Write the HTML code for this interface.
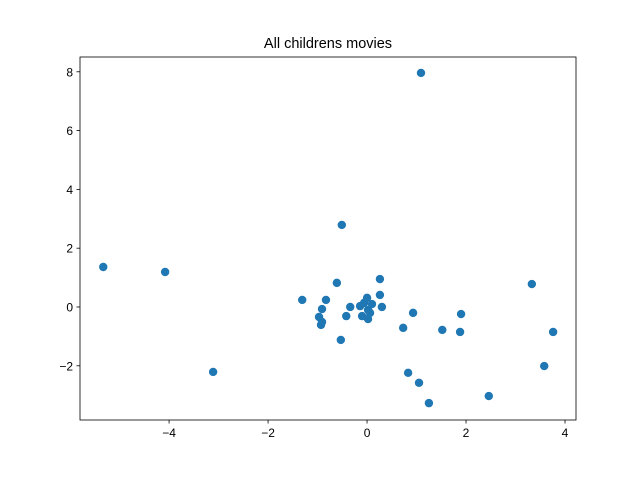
<!DOCTYPE html>
<html><head><meta charset="utf-8"><style>
body{margin:0;background:#fff}
svg text{font-family:"Liberation Sans","DejaVu Sans",sans-serif;fill:#000}
</style></head><body>
<svg id="chart" width="640" height="472" xmlns="http://www.w3.org/2000/svg">
<rect width="640" height="472" fill="#fff"/>
<text x="328" y="48" font-size="14.5" text-anchor="middle">All childrens movies</text>
<g id="marks"></g>
<g id="axes"></g>
</svg>
<script>
const xValues=[-5.33,-4.08,-3.11,-1.31,-0.97,-0.93,-0.91,-0.91,-0.83,-0.61,-0.53,-0.51,-0.42,-0.34,-0.14,-0.10,-0.06,0,0.02,0.02,0.06,0.10,0.26,0.26,0.30,0.73,0.83,0.93,1.05,1.09,1.25,1.52,1.88,1.90,2.46,3.33,3.58,3.76];
const yValues=[1.36,1.19,-2.21,0.24,-0.34,-0.61,-0.07,-0.51,0.24,0.82,-1.12,2.79,-0.31,0,0.03,-0.31,0.14,0.31,-0.1,-0.41,-0.2,0.10,0.95,0.41,0,-0.71,-2.24,-0.2,-2.58,7.96,-3.27,-0.78,-0.85,-0.24,-3.03,0.78,-2.01,-0.85];
const xTicks=[-4,-2,0,2,4];
const yTicks=[-2,0,2,4,6,8];
const L=80,R=576,T=57,B=420,xmin=-5.80,xmax=4.222,ymin=-3.844,ymax=8.503;
const sx=v=>L+(v-xmin)/(xmax-xmin)*(R-L);
const sy=v=>B-(v-ymin)/(ymax-ymin)*(B-T);
const NS="http://www.w3.org/2000/svg";
const marks=document.getElementById('marks'),axes=document.getElementById('axes');
function mk(tag,attrs,parent){const e=document.createElementNS(NS,tag);for(const k in attrs)e.setAttribute(k,attrs[k]);parent.appendChild(e);return e;}
xValues.forEach((x,i)=>{
  const c=mk('circle',{cx:sx(x),cy:sy(yValues[i]),r:4.2,fill:'#1f77b4'},marks);
  
  
});
const frame=mk('rect',{x:L,y:T,width:R-L,height:B-T,fill:'none',stroke:'#000','stroke-width':0.8},axes);


xTicks.forEach(t=>{
  const x=sx(t);
  mk('line',{x1:x,x2:x,y1:B,y2:B+3.5,stroke:'#000','stroke-width':0.8},axes);
  const tx=mk('text',{x:x,y:B+17,'font-size':12,'text-anchor':'middle'},axes);
  tx.textContent=(t<0?'\u2212'+(-t):t);
  
  
});
yTicks.forEach(t=>{
  const y=sy(t);
  mk('line',{x1:L-3.5,x2:L,y1:y,y2:y,stroke:'#000','stroke-width':0.8},axes);
  const tx=mk('text',{x:L-7,y:y+4.5,'font-size':12,'text-anchor':'end'},axes);
  tx.textContent=(t<0?'\u2212'+(-t):t);
  
  
});
</script>
</body></html>
